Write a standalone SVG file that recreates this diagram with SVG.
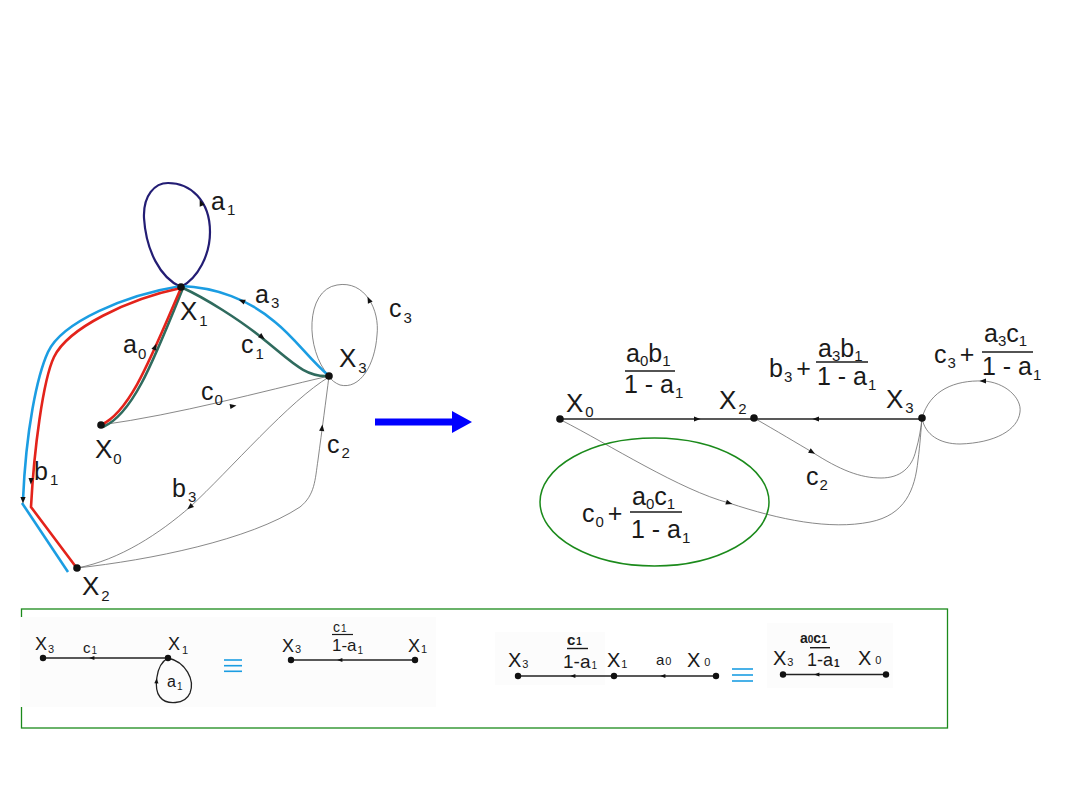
<svg xmlns="http://www.w3.org/2000/svg" xmlns:xlink="http://www.w3.org/1999/xlink" width="1080" height="810" viewBox="0 0 1080 810">
<style>
text{font-family:"Liberation Sans",Arial,sans-serif;fill:#1a1a1a}
.L{font-size:26px}
.M{font-size:25px}
.sub{font-size:15px}
.thin{fill:none;stroke:#6a6a6a;stroke-width:0.8}
.blk{fill:none;stroke:#222;stroke-width:1.3}
.red{fill:none;stroke:#e3231b;stroke-width:2.6}
.blue{fill:none;stroke:#1b9de2;stroke-width:2.6}
.grn{fill:none;stroke:#2f6b5e;stroke-width:2.6}
.navy{fill:none;stroke:#231d74;stroke-width:2.2}
.dot{fill:#111}
.bar{stroke:#1a1a1a;stroke-width:1.4}
.eq{stroke:#1b9de2;stroke-width:1.6}
.bg{fill:#fcfcfc}
</style>
<defs>
<path id="ah" d="M3.5,0 L-3,-2.6 L-3,2.6Z" fill="#111"/>
</defs>
<rect width="1080" height="810" fill="#fff"/>

<!-- ============ LEFT GRAPH ============ -->
<g id="connectors-left">
  <path class="navy" d="M181,287 C160,278 146,250 144,218 C143,195 155,183 168,183 C190,183 210,200 210,232 C210,255 198,278 181,287"/>
  <path class="thin" d="M329,376 C305,350 305,290 337,285 C365,280 380,310 377,335 C375,365 360,390 340,385 C335,383 331,380 329,376"/>
  <path class="thin" d="M101,425 C180,414 260,392 329,376"/>
  <path class="thin" d="M329,377 C290,400 230,470 190,507 C160,533 120,560 77,568"/>
  <path class="thin" d="M77,568 C150,560 250,540 300,507 C315,495 315,480 318,460 C322,430 326,400 329,376"/>
  <path class="blue" d="M328,375 C310,360 295,338 275,322 C250,300 215,287 181,286 C125,295 62,322 48,352 C37,376 26,430 23,500"/>
  <path class="blue" d="M22,503 L68,572"/>
  <path class="grn" d="M103,427 C133,414 153,362 183,288 C205,298 240,320 262,338 C290,360 305,378 329,376"/>
  <path class="red" d="M101,425 C130,412 150,360 181,288 C128,299 68,328 54,357 C43,380 34,450 31,507 L76,567"/>
  <use xlink:href="#ah" transform="translate(201,203) rotate(-112)"/>
  <use xlink:href="#ah" transform="translate(242,301) rotate(-157)"/>
  <use xlink:href="#ah" transform="translate(262,337) rotate(38)"/>
  <use xlink:href="#ah" transform="translate(155,347) rotate(-68)"/>
  <use xlink:href="#ah" transform="translate(31,481) rotate(92)"/>
  <use xlink:href="#ah" transform="translate(23,500) rotate(90)"/>
  <use xlink:href="#ah" transform="translate(369,300) rotate(-115)"/>
  <use xlink:href="#ah" transform="translate(233,406) rotate(-10)"/>
  <use xlink:href="#ah" transform="translate(190,507) rotate(140)"/>
  <use xlink:href="#ah" transform="translate(322,428) rotate(-84)"/>
</g>

<g id="node-X1"><circle class="dot" cx="181" cy="287" r="3.8"/><text class="L" x="180" y="320">X<tspan class="sub" dx="2" dy="6">1</tspan></text></g>
<g id="node-X0"><circle class="dot" cx="101" cy="425" r="3.8"/><text class="L" x="95" y="458">X<tspan class="sub" dx="1" dy="6">0</tspan></text></g>
<g id="node-X3"><circle class="dot" cx="329" cy="376" r="3.8"/><text class="L" x="339" y="367">X<tspan class="sub" dx="2" dy="6">3</tspan></text></g>
<g id="node-X2"><circle class="dot" cx="77" cy="568" r="3.8"/><text class="L" x="82" y="595">X<tspan class="sub" dx="2" dy="6">2</tspan></text></g>

<g id="labels-left">
  <text class="M" x="211" y="210">a<tspan class="sub" dx="2" dy="5">1</tspan></text>
  <text class="M" x="255" y="303">a<tspan class="sub" dx="2" dy="5">3</tspan></text>
  <text class="M" x="389" y="317">c<tspan class="sub" dx="2" dy="6">3</tspan></text>
  <text class="M" x="123" y="353">a<tspan class="sub" dx="1" dy="6">0</tspan></text>
  <text class="M" x="241" y="353">c<tspan class="sub" dx="2" dy="6">1</tspan></text>
  <text class="M" x="201" y="400">c<tspan class="sub" dx="1" dy="5">0</tspan></text>
  <text class="M" x="327" y="453">c<tspan class="sub" dx="2" dy="5">2</tspan></text>
  <text class="M" x="34" y="480">b<tspan class="sub" dx="2" dy="5">1</tspan></text>
  <text class="M" x="172" y="497">b<tspan class="sub" dx="2" dy="5">3</tspan></text>
</g>

<g id="big-arrow">
  <rect x="375" y="418.5" width="78" height="7" fill="#0000ff"/>
  <polygon points="452,411 472,422 452,433" fill="#0000ff"/>
</g>

<!-- ============ RIGHT GRAPH ============ -->
<g id="connectors-right">
  <path class="blk" d="M560,419 L922,419"/>
  <path class="thin" d="M922,418 C930,390 955,380 983,381 C1005,382 1022,398 1020,412 C1018,430 995,443 960,444 C940,444 925,435 922,418"/>
  <path class="thin" d="M754,418 C775,430 800,445 812,452 C840,470 860,478 881,478 C900,478 912,468 916,450 C919,440 921,428 922,418"/>
  <path class="thin" d="M561,420 C610,445 680,490 729,503 C780,520 830,530 870,522 C905,515 915,490 918,460 C920,445 921,430 922,418"/>
  <use xlink:href="#ah" transform="translate(697,419)"/>
  <use xlink:href="#ah" transform="translate(816,419) rotate(180)"/>
  <use xlink:href="#ah" transform="translate(983,381) rotate(180)"/>
  <use xlink:href="#ah" transform="translate(812,452) rotate(30)"/>
  <use xlink:href="#ah" transform="translate(729,503) rotate(17)"/>
</g>
<g id="node-R-X0"><circle class="dot" cx="560" cy="419" r="3.8"/><text class="L" x="566" y="412">X<tspan class="sub" dx="2" dy="5">0</tspan></text></g>
<g id="node-R-X2"><circle class="dot" cx="754" cy="418" r="3.8"/><text class="L" x="719" y="409">X<tspan class="sub" dx="2" dy="5">2</tspan></text></g>
<g id="node-R-X3"><circle class="dot" cx="922" cy="418" r="3.8"/><text class="L" x="886" y="408">X<tspan class="sub" dx="2" dy="5">3</tspan></text></g>

<g id="labels-right">
  <text class="M" x="626" y="362">a<tspan class="sub" dy="4">0</tspan><tspan dy="-4">b</tspan><tspan class="sub" dy="4">1</tspan></text>
  <line class="bar" x1="625" y1="371" x2="675" y2="371"/>
  <text class="M" x="624" y="393">1 - a<tspan class="sub" dx="1" dy="5">1</tspan></text>

  <text class="M" x="769" y="377">b<tspan class="sub" dx="1" dy="5">3</tspan><tspan dy="-5" dx="4">+</tspan></text>
  <text class="M" x="818" y="357">a<tspan class="sub" dy="4">3</tspan><tspan dy="-4">b</tspan><tspan class="sub" dy="4">1</tspan></text>
  <line class="bar" x1="816" y1="362" x2="868" y2="362"/>
  <text class="M" x="817" y="385">1 - a<tspan class="sub" dx="1" dy="5">1</tspan></text>

  <text class="M" x="934" y="363">c<tspan class="sub" dx="1" dy="5">3</tspan><tspan dy="-5" dx="4">+</tspan></text>
  <text class="M" x="984" y="342">a<tspan class="sub" dy="4">3</tspan><tspan dy="-4">c</tspan><tspan class="sub" dy="4">1</tspan></text>
  <line class="bar" x1="982" y1="352" x2="1033" y2="352"/>
  <text class="M" x="982" y="375">1 - a<tspan class="sub" dx="1" dy="5">1</tspan></text>

  <text class="M" x="806" y="485">c<tspan class="sub" dx="1" dy="5">2</tspan></text>
</g>

<g id="ellipse-group">
  <ellipse cx="654.5" cy="502" rx="114.5" ry="64" fill="none" stroke="#1b8a1b" stroke-width="1.5"/>
  <text class="M" x="582" y="522">c<tspan class="sub" dx="1" dy="5">0</tspan><tspan dy="-5" dx="4">+</tspan></text>
  <text class="M" x="632" y="505">a<tspan class="sub" dy="4">0</tspan><tspan dy="-4">c</tspan><tspan class="sub" dy="4">1</tspan></text>
  <line class="bar" x1="630" y1="512" x2="682" y2="512"/>
  <text class="M" x="631" y="538">1 - a<tspan class="sub" dx="1" dy="5">1</tspan></text>
</g>

<!-- ============ BOTTOM BOX ============ -->
<g id="bottom-box">
  <rect x="21.5" y="609" width="926" height="119" fill="none" stroke="#1b8a1b" stroke-width="1.3"/>
  <rect class="bg" x="20" y="617" width="416" height="90"/>
  <rect class="bg" x="495" y="632" width="110" height="53"/>
  <rect class="bg" x="767" y="623" width="126" height="65"/>
</g>

<g id="eq1-left">
  <path class="blk" d="M43,658 L168,658" stroke-width="1"/>
  <path class="blk" d="M168,658 C155,665 154,690 160,697 C166,705 185,705 190,693 C195,680 186,662 168,658" stroke-width="1"/>
  <use xlink:href="#ah" transform="translate(92,658) rotate(180) scale(0.8)"/>
  <use xlink:href="#ah" transform="translate(156.5,681) rotate(-88) scale(0.8)"/>
  <circle class="dot" cx="43" cy="658" r="3.2"/>
  <circle class="dot" cx="168" cy="658" r="3.2"/>
  <text x="35" y="650" font-size="18">X<tspan font-size="11" dx="1" dy="3">3</tspan></text>
  <text x="83" y="653" font-size="15">c<tspan font-size="10" dx="1" dy="1">1</tspan></text>
  <text x="168" y="650" font-size="18">X<tspan font-size="11" dx="2" dy="4">1</tspan></text>
  <text x="167" y="687" font-size="16">a<tspan font-size="10" dx="1" dy="3">1</tspan></text>
</g>
<g id="eq-sign-1">
  <line class="eq" x1="224" y1="660" x2="242" y2="660"/>
  <line class="eq" x1="224" y1="665.7" x2="242" y2="665.7"/>
  <line class="eq" x1="224" y1="671.3" x2="242" y2="671.3"/>
</g>
<g id="eq1-right">
  <path class="blk" d="M291,660 L415,660" stroke-width="1"/>
  <use xlink:href="#ah" transform="translate(340,660) rotate(180) scale(0.8)"/>
  <circle class="dot" cx="291" cy="660" r="3.2"/>
  <circle class="dot" cx="415" cy="660" r="3.2"/>
  <text x="282" y="652" font-size="18">X<tspan font-size="11" dx="1" dy="1">3</tspan></text>
  <text x="333" y="632" font-size="14">c<tspan font-size="10" dx="1">1</tspan></text>
  <line x1="332" y1="634.5" x2="353" y2="634.5" stroke="#1a1a1a" stroke-width="1.2"/>
  <text x="332" y="651" font-size="17">1-a<tspan font-size="10" dx="1" dy="3">1</tspan></text>
  <text x="408" y="652" font-size="18">X<tspan font-size="11" dx="1" dy="1">1</tspan></text>
</g>
<g id="eq2-left">
  <path class="blk" d="M518,676 L716,676" stroke-width="1"/>
  <use xlink:href="#ah" transform="translate(573,676) rotate(180) scale(0.8)"/>
  <use xlink:href="#ah" transform="translate(663,676) rotate(180) scale(0.8)"/>
  <circle class="dot" cx="518" cy="676" r="3.2"/>
  <circle class="dot" cx="614" cy="676" r="3.2"/>
  <circle class="dot" cx="716" cy="676" r="3.2"/>
  <text x="508" y="667" font-size="20">X<tspan font-size="11" dx="1" dy="1">3</tspan></text>
  <text x="567" y="645" font-size="15" font-weight="bold">c<tspan font-size="10" dx="1">1</tspan></text>
  <line x1="567" y1="648.5" x2="588" y2="648.5" stroke="#1a1a1a" stroke-width="1.4"/>
  <text x="563" y="668" font-size="19">1-a<tspan font-size="10" dx="1" dy="1">1</tspan></text>
  <text x="607" y="667" font-size="20">X<tspan font-size="11" dx="1" dy="1">1</tspan></text>
  <text x="656" y="665" font-size="15">a<tspan font-size="11" dx="1">0</tspan></text>
  <text x="687" y="667" font-size="20">X<tspan font-size="11" dx="4" dy="-1">0</tspan></text>
</g>
<g id="eq-sign-2">
  <line class="eq" x1="732" y1="669" x2="753" y2="669"/>
  <line class="eq" x1="732" y1="675" x2="753" y2="675"/>
  <line class="eq" x1="732" y1="681" x2="753" y2="681"/>
</g>
<g id="eq2-right">
  <path class="blk" d="M783,674.5 L886,674.5" stroke-width="1"/>
  <use xlink:href="#ah" transform="translate(817,674.5) rotate(180) scale(0.8)"/>
  <circle class="dot" cx="783" cy="674.5" r="3.2"/>
  <circle class="dot" cx="886" cy="674.5" r="3.2"/>
  <text x="773" y="665" font-size="20">X<tspan font-size="11" dx="1" dy="1">3</tspan></text>
  <text x="800" y="643" font-size="14" font-weight="bold">a<tspan font-size="10" dx="0">0</tspan>c<tspan font-size="10">1</tspan></text>
  <line x1="810" y1="647.7" x2="830" y2="647.7" stroke="#1a1a1a" stroke-width="1.4"/>
  <text x="807" y="666" font-size="18">1-a<tspan font-size="10" dx="1" dy="1" font-weight="bold">1</tspan></text>
  <text x="858" y="665" font-size="20">X<tspan font-size="11" dx="4" dy="-1">0</tspan></text>
</g>
</svg>
